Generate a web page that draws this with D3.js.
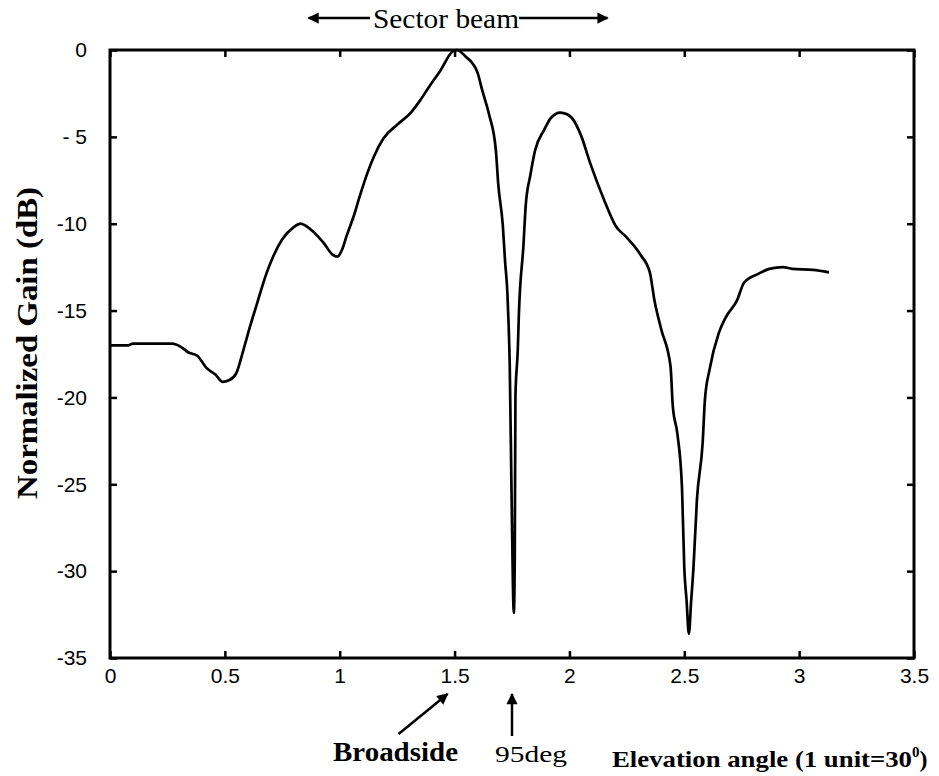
<!DOCTYPE html>
<html lang='en'>
<head>
    <meta charset='UTF-8'>
    <title>Normalized gain vs elevation angle</title>
    <style>
        body { margin: 0; background: #fff; }
        svg { display: block; }
    </style>
</head>
<body>
    <div id='anchor'></div>
    <script src='https://cdnjs.cloudflare.com/ajax/libs/d3/7.8.5/d3.min.js'></script>
    <script>
        // elevation angle (1 unit = 30 deg)
        const angle = [0, 0.08, 0.1, 0.2, 0.27, 0.31, 0.34, 0.38, 0.42, 0.46,
            0.49, 0.52, 0.55, 0.58, 0.61, 0.64, 0.68, 0.71, 0.75, 0.80,
            0.83, 0.85, 0.88, 0.93, 0.97, 0.99, 1.01, 1.03, 1.06, 1.09,
            1.12, 1.15, 1.19, 1.25, 1.31, 1.35, 1.39, 1.44, 1.49, 1.51,
            1.55, 1.58, 1.60, 1.62, 1.65, 1.68, 1.69, 1.71, 1.72, 1.73,
            1.735, 1.74, 1.748, 1.758, 1.762, 1.765, 1.775, 1.78, 1.80, 1.81,
            1.83, 1.85, 1.89, 1.92, 1.96, 1.99, 2.01, 2.05, 2.09, 2.15,
            2.20, 2.25, 2.31, 2.35, 2.37, 2.40, 2.44, 2.45, 2.47, 2.49,
            2.50, 2.51, 2.52, 2.53, 2.54, 2.555, 2.58, 2.59, 2.61, 2.65,
            2.68, 2.73, 2.76, 2.82, 2.87, 2.93, 2.97, 3.06, 3.13];
        // normalized gain in dB
        const gain = [-17.0, -17.0, -16.9, -16.9, -16.9, -17.1, -17.4, -17.6, -18.3, -18.7,
            -19.1, -19.0, -18.6, -17.3, -15.9, -14.6, -12.9, -11.9, -10.9, -10.2,
            -10.0, -10.1, -10.4, -11.1, -11.8, -11.9, -11.5, -10.7, -9.6, -8.3,
            -7.1, -6.1, -5.1, -4.3, -3.6, -2.9, -2.1, -1.15, -0.1, 0,
            -0.4, -0.8, -1.3, -2.3, -3.7, -5.8, -7.7, -10.1, -12.2, -14.0,
            -15.7, -18.0, -25.5, -32.4, -29.3, -19.9, -17.3, -15.2, -11.2, -8.9,
            -7.2, -5.8, -4.6, -3.9, -3.6, -3.7, -3.9, -4.9, -6.5, -8.6,
            -10.1, -10.8, -11.8, -12.8, -14.4, -16.1, -18.2, -20.5, -22.1, -25.2,
            -29.8, -31.7, -33.6, -31.7, -29.8, -25.9, -22.6, -20.1, -18.4, -16.3,
            -15.4, -14.4, -13.4, -12.9, -12.6, -12.5, -12.6, -12.66, -12.8];

        const xTicks = [0, 0.5, 1, 1.5, 2, 2.5, 3, 3.5];
        const xTickLabels = ['0', '0.5', '1', '1.5', '2', '2.5', '3', '3.5'];
        const yTicks = [0, -5, -10, -15, -20, -25, -30, -35];
        const yTickLabels = ['0', '- 5', '-10', '-15', '-20', '-25', '-30', '-35'];

        const broadsideAt = 1.5;
        const nullAt = 1.75;
        const sectorBeam = [0.86, 2.14];

        const width = 939, height = 776;
        const margin = {top: 50, right: 25, bottom: 118, left: 110};

        const x = d3.scaleLinear().domain([0, 3.5]).range([margin.left, width - margin.right]);
        const y = d3.scaleLinear().domain([-35, 0]).range([height - margin.bottom, margin.top]);

        const svg = d3.select('#anchor').append('svg')
            .attr('width', width)
            .attr('height', height)
            .attr('viewBox', [0, 0, width, height]);

        svg.append('defs').append('marker')
            .attr('id', 'head')
            .attr('viewBox', '0 0 10 10')
            .attr('refX', 9)
            .attr('refY', 5)
            .attr('markerWidth', 5.5)
            .attr('markerHeight', 4.5)
            .attr('markerUnits', 'strokeWidth')
            .attr('orient', 'auto')
            .append('path')
            .attr('d', 'M0,0 L10,5 L0,10 Z')
            .attr('fill', '#000');

        const tickFont = "'Liberation Sans Narrow', 'Liberation Sans', Arial, sans-serif";
        const serif = "'Liberation Serif', 'Times New Roman', serif";

        // axes with inward ticks (MATLAB box style)
        const axisStyle = g => {
            g.select('.domain').remove();
            g.selectAll('.tick line').attr('stroke', '#000').attr('stroke-width', 2.5);
        };
        const tickText = g => g.selectAll('text')
            .attr('font-family', tickFont)
            .attr('font-size', 21)
            .attr('fill', '#000');

        svg.append('g')
            .attr('transform', `translate(0,${y(-35)})`)
            .call(d3.axisBottom(x).tickValues(xTicks).tickSize(-7).tickPadding(10)
                .tickFormat((d, i) => xTickLabels[i]))
            .call(axisStyle)
            .call(tickText);

        svg.append('g')
            .attr('transform', `translate(0,${y(0)})`)
            .call(d3.axisTop(x).tickValues(xTicks).tickSize(-7).tickFormat(''))
            .call(axisStyle);

        svg.append('g')
            .attr('transform', `translate(${x(0)},0)`)
            .call(d3.axisLeft(y).tickValues(yTicks).tickSize(-7).tickPadding(23)
                .tickFormat((d, i) => yTickLabels[i]))
            .call(axisStyle)
            .call(tickText);

        svg.append('g')
            .attr('transform', `translate(${x(3.5)},0)`)
            .call(d3.axisRight(y).tickValues(yTicks).tickSize(-7).tickFormat(''))
            .call(axisStyle);

        // box
        svg.append('rect')
            .attr('x', x(0))
            .attr('y', y(0))
            .attr('width', x(3.5) - x(0))
            .attr('height', y(-35) - y(0))
            .attr('fill', 'none')
            .attr('stroke', '#000')
            .attr('stroke-width', 3);

        // gain curve
        const line = d3.line()
            .x((d, i) => x(angle[i]))
            .y(d => y(d))
            .curve(d3.curveMonotoneX);

        svg.append('path')
            .datum(gain)
            .attr('fill', 'none')
            .attr('stroke', '#000')
            .attr('stroke-width', 2.7)
            .attr('stroke-linejoin', 'round')
            .attr('d', line);

        // y label
        svg.append('text')
            .attr('transform', `translate(37,343) rotate(-90)`)
            .attr('text-anchor', 'middle')
            .attr('font-family', serif)
            .attr('font-weight', 'bold')
            .attr('font-size', 29)
            .attr('textLength', 312)
            .attr('lengthAdjust', 'spacingAndGlyphs')
            .text('Normalized Gain (dB)');

        // x label
        const xl = svg.append('text')
            .attr('x', 612)
            .attr('y', 767)
            .attr('font-family', serif)
            .attr('font-weight', 'bold')
            .attr('font-size', 24);
        xl.append('tspan')
            .attr('textLength', 300)
            .attr('lengthAdjust', 'spacingAndGlyphs')
            .text('Elevation angle (1 unit=30');
        xl.append('tspan').attr('dy', -10).attr('font-size', 15).text('0');
        xl.append('tspan').attr('dy', 10).text(')');

        // sector beam annotation
        svg.append('text')
            .attr('x', 446)
            .attr('y', 28)
            .attr('text-anchor', 'middle')
            .attr('font-family', serif)
            .attr('font-size', 27)
            .attr('textLength', 146)
            .attr('lengthAdjust', 'spacingAndGlyphs')
            .text('Sector beam');

        svg.append('line')
            .attr('x1', 370).attr('y1', 18)
            .attr('x2', x(sectorBeam[0]) + 1).attr('y2', 18)
            .attr('stroke', '#000').attr('stroke-width', 2.5)
            .attr('marker-end', 'url(#head)');
        svg.append('line')
            .attr('x1', 519).attr('y1', 18)
            .attr('x2', x(sectorBeam[1]) + 6).attr('y2', 18)
            .attr('stroke', '#000').attr('stroke-width', 2.5)
            .attr('marker-end', 'url(#head)');

        // broadside arrow
        svg.append('line')
            .attr('x1', x(broadsideAt) - 56).attr('y1', 734)
            .attr('x2', x(broadsideAt) - 7).attr('y2', 694)
            .attr('stroke', '#000').attr('stroke-width', 2.5)
            .attr('marker-end', 'url(#head)');
        svg.append('text')
            .attr('x', 333)
            .attr('y', 761)
            .attr('font-family', serif)
            .attr('font-weight', 'bold')
            .attr('font-size', 27)
            .attr('textLength', 125)
            .attr('lengthAdjust', 'spacingAndGlyphs')
            .text('Broadside');

        // 95 deg arrow
        svg.append('line')
            .attr('x1', x(nullAt)).attr('y1', 736)
            .attr('x2', x(nullAt)).attr('y2', 694)
            .attr('stroke', '#000').attr('stroke-width', 2.5)
            .attr('marker-end', 'url(#head)');
        svg.append('text')
            .attr('x', 495)
            .attr('y', 762)
            .attr('font-family', serif)
            .attr('font-size', 23)
            .attr('textLength', 72)
            .attr('lengthAdjust', 'spacingAndGlyphs')
            .text('95deg');
    </script>
</body>
</html>
